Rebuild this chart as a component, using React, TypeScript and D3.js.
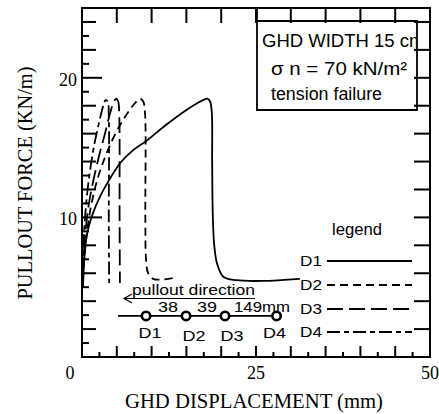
import React from "react";
import * as d3 from "d3";

// ---- data ----
const seriesNames = ["D1", "D2", "D3", "D4"];
const d1X = [0.15, 0.4, 0.8, 1.5, 2.5, 3.8, 5.5, 7.3, 9.3, 12, 15, 16.6, 17.4, 18.0, 18.4, 18.65, 18.7, 18.8, 19.0, 19.4, 20.3, 22.2, 26, 31.3];
const d1Y = [5, 7.5, 9, 10.2, 11.4, 12.6, 13.9, 14.8, 15.5, 16.6, 17.7, 18.2, 18.4, 18.5, 18.3, 17.5, 14, 10, 8, 6.7, 5.75, 5.5, 5.45, 5.6];
const d2X = [0.1, 0.6, 1.3, 2.2, 3.3, 4.5, 5.8, 7.0, 7.8, 8.3, 8.8, 9.05, 9.1, 9.2, 9.5, 10.2, 11.5, 13.1];
const d2Y = [5.5, 8.5, 10.8, 12.7, 14.3, 15.7, 16.9, 17.8, 18.3, 18.5, 18.3, 17.5, 10, 7, 6, 5.6, 5.55, 5.65];
const d3X = [0.1, 0.5, 1.0, 1.7, 2.5, 3.3, 4.0, 4.5, 4.9, 5.2, 5.35, 5.4, 5.45];
const d3Y = [6, 9, 11, 12.8, 14.5, 16, 17.4, 18.2, 18.5, 18.3, 17.3, 10, 5.3];
const d4X = [0.05, 0.3, 0.7, 1.2, 1.8, 2.5, 3.0, 3.4, 3.7, 3.85, 3.85, 3.9];
const d4Y = [6, 9, 11.5, 13.5, 15.3, 16.9, 17.9, 18.4, 18.3, 17.3, 10, 5.3];

const xTickLabels = [0, 25, 50];
const yTickLabels = [10, 20];
const leftTickValues = [1, 2, 3, 4, 5, 6, 7, 8, 9, 10, 11, 12, 13, 14, 15, 16, 17, 18, 19, 20, 21, 22, 23, 24];
const rightTickValues = [2, 4, 6, 8, 10, 12, 14, 16, 18, 20, 22, 24];
const bottomTickValues = [2.5, 5, 7.5, 10, 12.5, 15, 17.5, 20, 22.5, 25, 27.5, 30, 32.5, 35, 37.5, 40, 42.5, 45, 47.5];
const topTickValues = [5, 10, 15, 20, 25, 30, 35, 40, 45];
const sensorX = [9.2, 14.95, 20.55, 27.95];
const sensorY = 2.94;
const spacingLabels = ["38", "39", "149mm"];
const boxLines = ["GHD WIDTH 15 cm", "σ n = 70 kN/m²", "tension failure"];

const dashes = ["", "8,5", "16,6", "13,4,5,4"];

export default function App() {
  const W = 439, H = 414;
  const x = d3.scaleLinear().domain([0, 50]).range([82, 430]);
  const y = d3.scaleLinear().domain([0, 25]).range([357, 8]);
  const lineGen = d3
    .line<[number, number]>()
    .x((d) => x(d[0]))
    .y((d) => y(d[1]))
    .curve(d3.curveCatmullRom.alpha(0.5));
  const series: [number, number][][] = [
    d1X.map((v, i) => [v, d1Y[i]] as [number, number]),
    d2X.map((v, i) => [v, d2Y[i]] as [number, number]),
    d3X.map((v, i) => [v, d3Y[i]] as [number, number]),
    d4X.map((v, i) => [v, d4Y[i]] as [number, number]),
  ];

  const sans = "'Liberation Sans', Arial, sans-serif";
  const serif = "'Liberation Serif', 'Times New Roman', serif";

  const legendBaselines = [266, 290, 314, 337];
  const labelDx = [4, 8, 7, -2];
  const labelDy = [22, 25, 25, 22];
  const numberX = [158, 197, 234];
  const numberW = [20, 20, 56];
  const ink = "#000";
  const tw = 2;

  return (
    <svg width={W} height={H} style={{ position: "absolute", left: 0, top: 0, background: "#fff" }}>
      <defs>
        <clipPath id="boxclip">
          <rect x={258} y={22} width={158} height={87} />
        </clipPath>
      </defs>
      {/* frame */}
      <rect x={x(0)} y={y(25)} width={x(50) - x(0)} height={y(0) - y(25)} fill="none" stroke={ink} strokeWidth={2} />
      {/* ticks as thin filled rects */}
      <g fill={ink} stroke="none">
        {leftTickValues.map((t) => (
          <rect key={"lt" + t} x={x(0)} y={y(t) - tw / 2} width={t % 10 === 0 ? 20 : t % 2 === 0 ? 14 : 7} height={tw} />
        ))}
        {rightTickValues.map((t) => (
          <rect key={"rt" + t} x={x(50) - 16} y={y(t) - tw / 2} width={16} height={tw} />
        ))}
        {bottomTickValues.map((t) => (
          <rect key={"bt" + t} x={x(t) - tw / 2} y={y(0) - (t % 5 === 0 ? 11 : 5)} width={tw} height={t % 5 === 0 ? 11 : 5} />
        ))}
        {topTickValues.map((t) => (
          <rect key={"tt" + t} x={x(t) - tw / 2} y={y(25)} width={tw} height={15} />
        ))}
      </g>
      {/* tick labels */}
      <g fontFamily={serif} fontSize={18} fill={ink}>
        {yTickLabels.map((t) => (
          <text key={"yl" + t} x={x(0) - 5} y={y(t) + 8} textAnchor="end">{t}</text>
        ))}
        {xTickLabels.map((t) => (
          <text key={"xl" + t} x={t === 0 ? x(t) - 12 : x(t)} y={y(0) + 22} textAnchor="middle">{t}</text>
        ))}
      </g>
      {/* axis titles */}
      <text x={254} y={408} fontFamily={serif} fontSize={20} textAnchor="middle" textLength={258} lengthAdjust="spacingAndGlyphs" fill={ink}>
        GHD DISPLACEMENT (mm)
      </text>
      <text transform="translate(32,183) rotate(-90)" fontFamily={serif} fontSize={20} textAnchor="middle" textLength={233} lengthAdjust="spacingAndGlyphs" fill={ink}>
        PULLOUT FORCE (KN/m)
      </text>
      {/* info box */}
      <path d={`M257,${y(25)}V110H417V21H257`} fill="none" stroke={ink} strokeWidth={1.8} />
      <g fontFamily={sans} fill={ink} clipPath="url(#boxclip)">
        <text x={262} y={47} fontSize={18.5}>{boxLines[0]}</text>
        <text x={271} y={75} fontSize={19} textLength={136} lengthAdjust="spacingAndGlyphs">{boxLines[1]}</text>
        <text x={271} y={100} fontSize={17.5} textLength={111} lengthAdjust="spacingAndGlyphs">{boxLines[2]}</text>
      </g>
      {/* curves */}
      <g fill="none" stroke={ink} strokeWidth={1.8}>
        {series.map((s, i) => (
          <path key={"c" + i} d={lineGen(s) || ""} strokeDasharray={dashes[i] || undefined} />
        ))}
      </g>
      {/* legend */}
      <text x={332} y={235} fontFamily={sans} fontSize={16} fill={ink} textLength={50} lengthAdjust="spacingAndGlyphs">legend</text>
      {seriesNames.map((n, i) => (
        <g key={"lg" + n}>
          <text x={300} y={legendBaselines[i]} fontFamily={sans} fontSize={15} fill={ink} textLength={22} lengthAdjust="spacingAndGlyphs">{n}</text>
          <line x1={327} x2={412} y1={legendBaselines[i] - 5} y2={legendBaselines[i] - 5} stroke={ink} strokeWidth={1.8} strokeDasharray={dashes[i] || undefined} />
        </g>
      ))}
      {/* pullout direction annotation */}
      <text x={132} y={295} fontFamily={sans} fontSize={14} fill={ink} textLength={123} lengthAdjust="spacingAndGlyphs">pullout direction</text>
      <g stroke={ink} strokeWidth={1.2} fill="none">
        <line x1={124} x2={255} y1={298.5} y2={298.5} />
        <polyline points="132,294 124,298.5 132,303" />
      </g>
      {spacingLabels.map((s, i) => (
        <text key={"sp" + i} x={numberX[i]} y={312} fontFamily={sans} fontSize={14} fill={ink} textLength={numberW[i]} lengthAdjust="spacingAndGlyphs">{s}</text>
      ))}
      <line x1={118} x2={278} y1={y(sensorY)} y2={y(sensorY)} stroke={ink} strokeWidth={1.8} />
      {sensorX.map((sx, i) => (
        <g key={"s" + i}>
          <circle cx={x(sx)} cy={y(sensorY)} r={4.2} fill="#fff" stroke={ink} strokeWidth={2.6} />
          <text x={x(sx) + labelDx[i]} y={y(sensorY) + labelDy[i]} fontFamily={sans} fontSize={15} fill={ink} textAnchor="middle" textLength={23} lengthAdjust="spacingAndGlyphs">{seriesNames[i]}</text>
        </g>
      ))}
    </svg>
  );
}
